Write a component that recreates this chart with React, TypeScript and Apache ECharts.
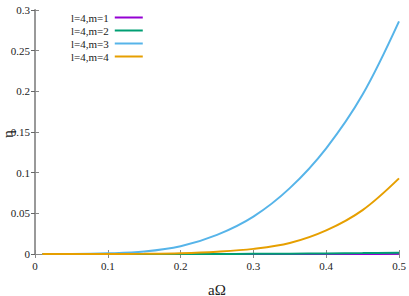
import React, { useEffect, useRef } from "react";
import * as echarts from "echarts";

const xs = [0.01, 0.05, 0.1, 0.15, 0.2, 0.25, 0.3, 0.35, 0.4, 0.45, 0.5];
const m1 = [0, 0, 0, 0, 0, 0, 0, 0, 0.0001, 0.0001, 0.0002];
const m2 = [0, 0, 0, 0, 0, 0.0001, 0.0002, 0.0004, 0.0007, 0.0011, 0.0016];
const m3 = [0, 0.00005, 0.0008, 0.003, 0.0095, 0.0235, 0.046, 0.081, 0.13, 0.196, 0.286];
const m4 = [0, 0, 0.00003, 0.0003, 0.001, 0.0028, 0.0063, 0.0135, 0.029, 0.054, 0.093];

const seriesNames = ["l=4,m=1", "l=4,m=2", "l=4,m=3", "l=4,m=4"];
const seriesData = [m1, m2, m3, m4];
const colors = ["#9400D3", "#009E73", "#56B4E9", "#E69F00"];
const yTitle = "η";
const xTitle = "aΩ";

const FONT = "'Liberation Serif', 'Times New Roman', serif";

export default function App() {
  const ref = useRef<HTMLDivElement>(null);
  useEffect(() => {
    if (!ref.current) return;
    const chart = echarts.init(ref.current, undefined, { renderer: "svg" });
    const axisLineStyle = { color: "#888", width: 1 };
    chart.setOption({
      animation: false,
      backgroundColor: "#fff",
      grid: { left: 35, right: 10, top: 10, bottom: 42, containLabel: false, outerBoundsMode: "none" },
      graphic: [
        {
          type: "text",
          x: 8,
          y: 134,
          rotation: Math.PI / 2,
          style: {
            text: yTitle,
            fontFamily: FONT,
            fontSize: 15,
            fill: "#222",
            textAlign: "center",
            textVerticalAlign: "middle",
          },
        },
      ],
      legend: {
        orient: "vertical",
        left: 66,
        top: 6,
        align: "right",
        icon: "rect",
        itemWidth: 28,
        itemHeight: 2,
        itemGap: 0,
        textStyle: { fontFamily: FONT, fontSize: 11, color: "#222", lineHeight: 13, padding: [0, 1, 0, 0] },
        data: seriesNames,
      },
      xAxis: [
        {
          type: "value",
          min: 0,
          max: 0.5,
          interval: 0.1,
          name: xTitle,
          nameLocation: "middle",
          nameGap: 28,
          nameMoveOverlap: false,
          nameTextStyle: { fontFamily: FONT, fontSize: 15, color: "#222" },
          axisLine: { show: true, lineStyle: axisLineStyle },
          axisTick: { inside: true, length: 4, lineStyle: { color: "#888" } },
          axisLabel: { fontFamily: FONT, fontSize: 11, color: "#222", margin: 6 },
          splitLine: { show: false },
        },
        {
          type: "value",
          position: "top",
          min: 0,
          max: 0.5,
          interval: 0.1,
          axisLine: { show: true, lineStyle: axisLineStyle },
          axisTick: { inside: true, length: 4, lineStyle: { color: "#888" } },
          axisLabel: { show: false },
          splitLine: { show: false },
        },
      ],
      yAxis: [
        {
          type: "value",
          min: 0,
          max: 0.3,
          interval: 0.05,
          axisLine: { show: true, lineStyle: axisLineStyle },
          axisTick: { show: true, inside: true, length: 4, lineStyle: { color: "#888" } },
          axisLabel: { fontFamily: FONT, fontSize: 11, color: "#222", margin: 5 },
          splitLine: { show: false },
        },
        {
          type: "value",
          position: "right",
          min: 0,
          max: 0.3,
          interval: 0.05,
          axisLine: { show: true, lineStyle: { color: "#999", width: 2 } },
          axisTick: { show: true, inside: true, length: 4, lineStyle: { color: "#666" } },
          axisLabel: { show: false },
          splitLine: { show: false },
        },
      ],
      series: seriesNames.map((name, i) => ({
        name,
        type: "line",
        symbol: "none",
        smooth: 0.35,
        color: colors[i],
        lineStyle: { width: 2, color: colors[i] },
        data: xs.map((x, j) => [x, seriesData[i][j]]),
      })),
    });
    return () => chart.dispose();
  }, []);
  return (
    <div
      ref={ref}
      style={{ position: "absolute", left: 0, top: 0, width: 409, height: 296 }}
    />
  );
}
